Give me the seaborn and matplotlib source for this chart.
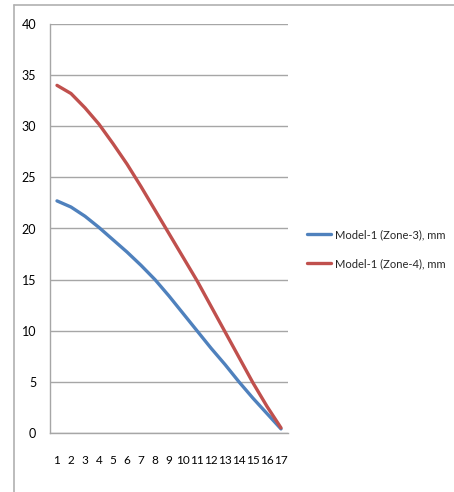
import matplotlib
matplotlib.use("Agg")
import matplotlib.pyplot as plt
from matplotlib.lines import Line2D
import seaborn as sns
import pandas as pd

categories = list(range(1, 18))
zone3 = [22.7, 22.1, 21.2, 20.1, 18.9, 17.7, 16.4, 15.0, 13.4, 11.7, 10.0, 8.3, 6.7, 5.0, 3.4, 1.9, 0.4]
zone4 = [34.0, 33.2, 31.8, 30.2, 28.3, 26.3, 24.1, 21.8, 19.5, 17.2, 14.9, 12.4, 9.9, 7.4, 4.9, 2.6, 0.5]
series_names = ["Model-1 (Zone-3), mm", "Model-1 (Zone-4), mm"]
y_ticks = [0, 5, 10, 15, 20, 25, 30, 35, 40]

df = pd.concat([
    pd.DataFrame({"pos": categories, "value": zone3, "series": series_names[0]}),
    pd.DataFrame({"pos": categories, "value": zone4, "series": series_names[1]}),
])

sns.set_theme(style="white")
plt.rcParams["font.family"] = ["Lato", "DejaVu Sans"]

fig = plt.figure(figsize=(4.54, 4.92), dpi=100)
ax = fig.add_axes([50 / 454, 1 - 433 / 492, 238 / 454, 409 / 492])

palette = {series_names[0]: "#4F81BD", series_names[1]: "#C0504D"}
sns.lineplot(data=df, x="pos", y="value", hue="series", palette=palette,
             linewidth=2.4, ax=ax, legend=False)

grid_color = "#a6a6a6"
ax.set_xlim(0.5, 17.5)
ax.set_ylim(0, 40)
ax.set_yticks(y_ticks)
ax.set_yticklabels([str(t) for t in y_ticks], fontsize=9)
ax.set_xticks(categories)
ax.set_xticklabels([str(c) for c in categories], fontsize=8.5)
ax.set_xticks([c - 0.5 for c in categories] + [17.5], minor=True)
ax.tick_params(axis="x", which="major", length=0, pad=16, colors="black")
ax.tick_params(axis="x", which="minor", length=4, width=1, color=grid_color, direction="out")
ax.tick_params(axis="y", which="major", length=4, width=1, color=grid_color, direction="out", pad=6)
ax.tick_params(axis="y", labelcolor="black")
ax.yaxis.grid(True, color=grid_color, linewidth=1)
ax.set_axisbelow(True)
for side in ("top", "right"):
    ax.spines[side].set_visible(False)
for side in ("left", "bottom"):
    ax.spines[side].set_color(grid_color)
    ax.spines[side].set_linewidth(1)
ax.set_xlabel("")
ax.set_ylabel("")

handles = [Line2D([], [], color=palette[n], linewidth=2.4) for n in series_names]
fig.legend(handles, series_names, loc="center left",
           bbox_to_anchor=(297 / 454, 1 - 249 / 492), frameon=False,
           fontsize=8, handlelength=2.2, handletextpad=0.3, labelspacing=1.6)

# chart area border (left and top edges)
border = "#b0b0b0"
fig.add_artist(Line2D([13.5 / 454, 13.5 / 454], [0, 1 - 5 / 492], color=border, linewidth=1.2,
                      transform=fig.transFigure))
fig.add_artist(Line2D([13.5 / 454, 1], [1 - 5 / 492, 1 - 5 / 492], color=border, linewidth=1.2,
                      transform=fig.transFigure))

fig.savefig("out.png", dpi=100)
